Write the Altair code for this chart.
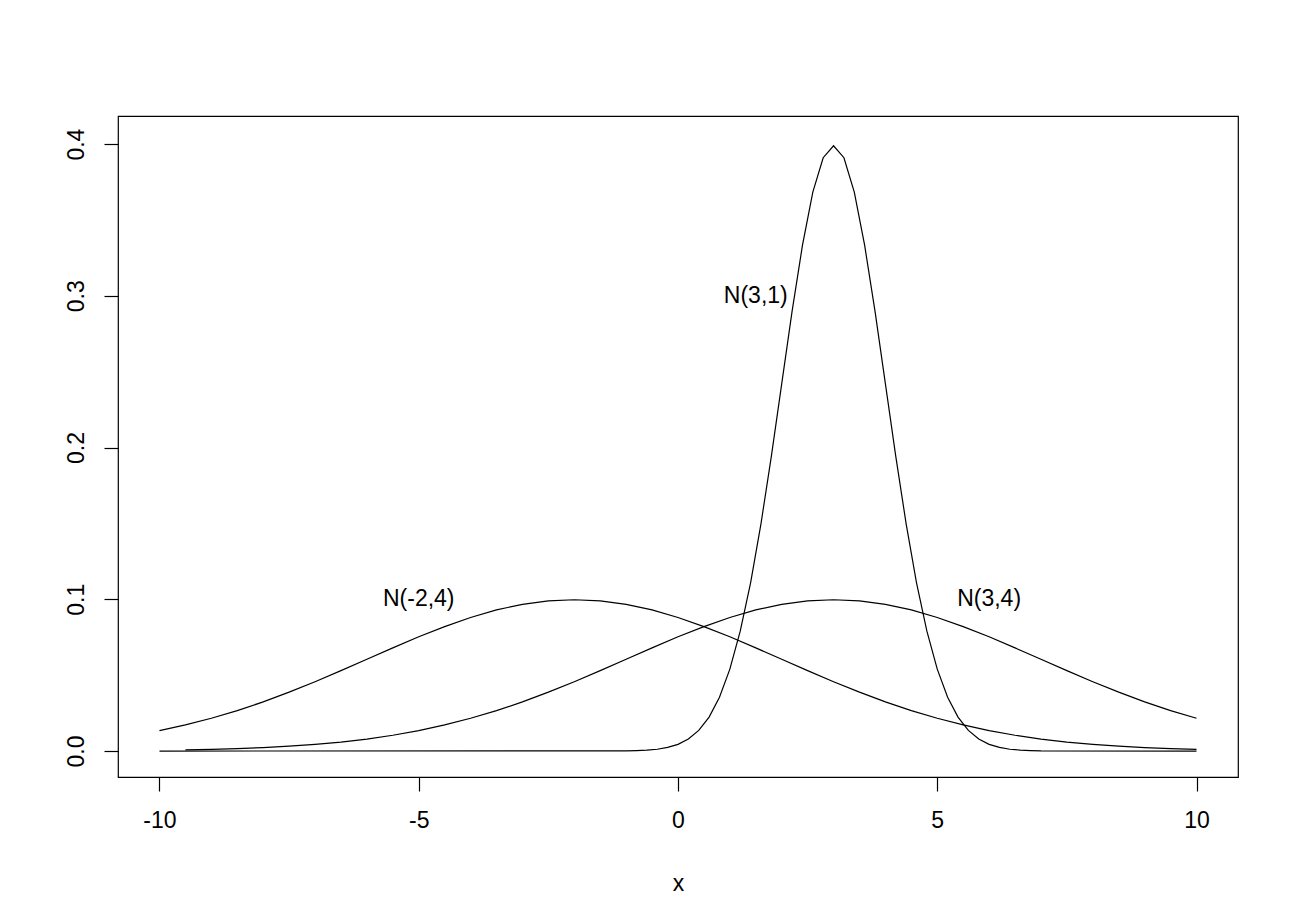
import altair as alt
import pandas as pd

# N(3,1) curve (narrow)
x_n31 = [-10.0, -1.0, -0.8, -0.6, -0.4, -0.2, 0.0, 0.2, 0.4, 0.6, 0.8, 1.0, 1.2, 1.4, 1.6, 1.8,
         2.0, 2.2, 2.4, 2.6, 2.8, 3.0, 3.2, 3.4, 3.6, 3.8, 4.0, 4.2, 4.4, 4.6, 4.8, 5.0,
         5.2, 5.4, 5.6, 5.8, 6.0, 6.2, 6.4, 6.6, 6.8, 7.0, 10.0]
y_n31 = [0.0, 0.0001, 0.0003, 0.0006, 0.0012, 0.0024, 0.0044, 0.0079, 0.0136, 0.0224, 0.0355,
         0.0540, 0.0790, 0.1109, 0.1497, 0.1942, 0.2420, 0.2897, 0.3332, 0.3683, 0.3910, 0.3989,
         0.3910, 0.3683, 0.3332, 0.2897, 0.2420, 0.1942, 0.1497, 0.1109, 0.0790, 0.0540, 0.0355,
         0.0224, 0.0136, 0.0079, 0.0044, 0.0024, 0.0012, 0.0006, 0.0003, 0.0001, 0.0]

# N(-2,4) curve
x_wide = [-10.0, -9.5, -9.0, -8.5, -8.0, -7.5, -7.0, -6.5, -6.0, -5.5, -5.0, -4.5, -4.0, -3.5,
          -3.0, -2.5, -2.0, -1.5, -1.0, -0.5, 0.0, 0.5, 1.0, 1.5, 2.0, 2.5, 3.0, 3.5, 4.0, 4.5,
          5.0, 5.5, 6.0, 6.5, 7.0, 7.5, 8.0, 8.5, 9.0, 9.5, 10.0]
y_nm24 = [0.0135, 0.0172, 0.0216, 0.0266, 0.0324, 0.0388, 0.0457, 0.0530, 0.0605, 0.0680, 0.0753,
          0.0820, 0.0880, 0.0930, 0.0967, 0.0990, 0.0997, 0.0990, 0.0967, 0.0930, 0.0880, 0.0820,
          0.0753, 0.0680, 0.0605, 0.0530, 0.0457, 0.0388, 0.0324, 0.0266, 0.0216, 0.0172, 0.0135,
          0.0104, 0.0079, 0.0059, 0.0044, 0.0032, 0.0023, 0.0016, 0.0011]

# N(3,4) curve
x_n34 = x_wide[1:]
y_n34 = [0.0008, 0.0011, 0.0016, 0.0023, 0.0032, 0.0044, 0.0059, 0.0079, 0.0104, 0.0135,
         0.0172, 0.0216, 0.0266, 0.0324, 0.0388, 0.0457, 0.0530, 0.0605, 0.0680, 0.0753, 0.0820,
         0.0880, 0.0930, 0.0967, 0.0990, 0.0997, 0.0990, 0.0967, 0.0930, 0.0880, 0.0820, 0.0753,
         0.0680, 0.0605, 0.0530, 0.0457, 0.0388, 0.0324, 0.0266, 0.0216]

label_text = ["N(3,1)", "N(-2,4)", "N(3,4)"]
label_x = [1.5, -5.0, 6.0]
label_y = [0.3, 0.1, 0.1]

rows = []
for name, xs, ys in [("N(3,1)", x_n31, y_n31), ("N(-2,4)", x_wide, y_nm24), ("N(3,4)", x_n34, y_n34)]:
    for a, b in zip(xs, ys):
        rows.append({"series": name, "x": a, "y": b})
df = pd.DataFrame(rows)
labels = pd.DataFrame({"text": label_text, "x": label_x, "y": label_y})

FONT = "Liberation Sans"

xscale = alt.Scale(domain=[-10.8, 10.8], nice=False, zero=False)
yscale = alt.Scale(domain=[-0.0171, 0.4185], nice=False, zero=False)

lines = alt.Chart(df).mark_line(color="black", strokeWidth=1.2).encode(
    x=alt.X("x:Q", scale=xscale,
            axis=alt.Axis(title="x", values=[-10, -5, 0, 5, 10],
                          labelExpr="datum.value + ''",
                          labelPadding=18, titlePadding=40)),
    y=alt.Y("y:Q", scale=yscale,
            axis=alt.Axis(title=None, values=[0, 0.1, 0.2, 0.3, 0.4], format=".1f",
                          labelAngle=270, labelAlign="center", labelBaseline="bottom",
                          labelPadding=16)),
    detail="series:N",
)

texts = alt.Chart(labels).mark_text(font=FONT, fontSize=23, color="black",
                                    align="center", baseline="middle").encode(
    x=alt.X("x:Q", scale=xscale),
    y=alt.Y("y:Q", scale=yscale),
    text="text:N",
)

chart = alt.layer(lines, texts).properties(
    width=1120, height=661,
    autosize=alt.AutoSizeParams(type="none"),
    padding={"left": 110, "top": 108, "right": 40, "bottom": 120},
    background="white",
).configure_view(
    stroke="black", strokeWidth=1.2
).configure_axis(
    domain=False, grid=False, ticks=True, tickColor="black", tickSize=14, tickWidth=1.2,
    labelFont=FONT, labelFontSize=23, labelColor="black",
    titleFont=FONT, titleFontSize=23, titleColor="black", titleFontWeight="normal",
)

chart.save("out.html", embed_options={"renderer": "svg", "actions": False})
